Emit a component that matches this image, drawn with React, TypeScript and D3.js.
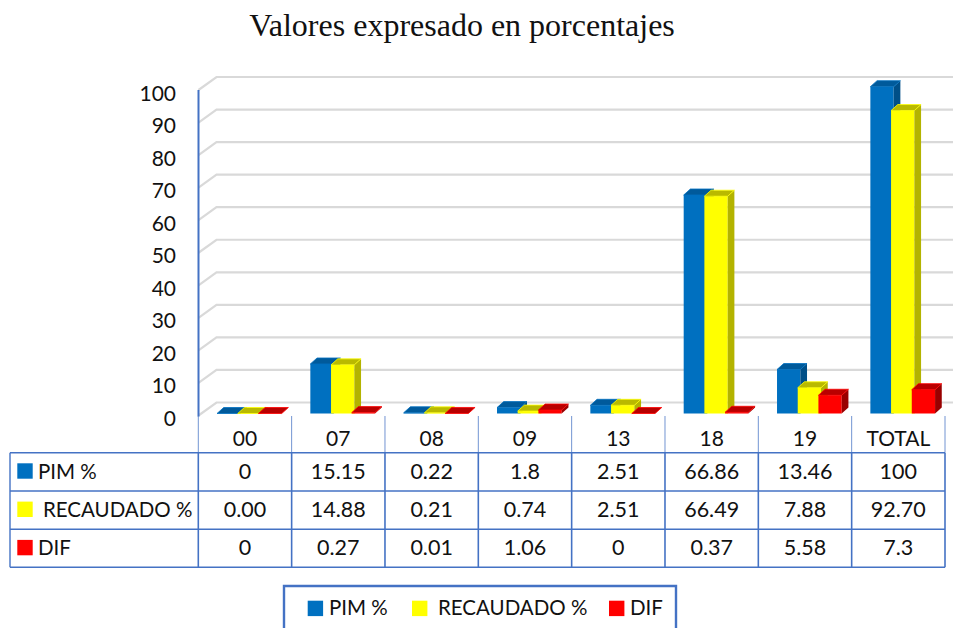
import React from "react";
import * as d3 from "d3";

const categories = ["00", "07", "08", "09", "13", "18", "19", "TOTAL"];
const pim = [0, 15.15, 0.22, 1.8, 2.51, 66.86, 13.46, 100];
const recaudado = [0, 14.88, 0.21, 0.74, 2.51, 66.49, 7.88, 92.7];
const dif = [0, 0.27, 0.01, 1.06, 0, 0.37, 5.58, 7.3];
const pimLabels = ["0", "15.15", "0.22", "1.8", "2.51", "66.86", "13.46", "100"];
const recaudadoLabels = ["0.00", "14.88", "0.21", "0.74", "2.51", "66.49", "7.88", "92.70"];
const difLabels = ["0", "0.27", "0.01", "1.06", "0", "0.37", "5.58", "7.3"];
const ticks = d3.range(0, 101, 10);
const seriesNames = ["PIM %", "RECAUDADO %", "DIF"];
const frontColors = ["#0070c0", "#ffff00", "#ff0000"];
const topColors = ["#005a9b", "#b9b900", "#b90000"];
const sideColors = ["#004f88", "#b3b300", "#990000"];

const FONT = "Lato, 'Open Sans', sans-serif";
const AXIS = "#4472c4";
const GRID = "#d9d9d9";
const INK = "#111";
const W = 953, H = 628;

const band = d3.scaleBand<string>().domain(categories).range([198.3, 945]);
const axisY = d3.scaleLinear().domain([0, 100]).range([415.5, 90]);
const barY = d3.scaleLinear().domain([0, 100]).range([413.5, 86.7]);
const DX = 18, DY = -13;
const dx = 6.7, dy = -6;
const barW = 23.3, step = 20.7, inset = 18.7;
const rowY = [452.7, 491, 529.3, 567.3];
const tableLeft = 10;

function Bar({ x, v, s }: { x: number; v: number; s: number }) {
  const t = barY(v), b = barY(0), r = x + barW;
  const top = `M${x},${t}L${x + dx},${t + dy}L${r + dx},${t + dy}L${r},${t}Z`;
  const side = `M${r},${t}L${r + dx},${t + dy}L${r + dx},${b + dy}L${r},${b}Z`;
  return (
    <g>
      <rect x={x} y={t} width={barW} height={b - t} fill={frontColors[s]} />
      <path d={side} fill={sideColors[s]} />
      <path d={top} fill={topColors[s]} stroke={frontColors[s]} strokeWidth={0.8} />
    </g>
  );
}

export default function App() {
  const rows = [pimLabels, recaudadoLabels, difLabels];
  const rowText = [38, 43, 38];
  const series = [pim, recaudado, dif];
  const bw = band.bandwidth();
  return (
    <svg width={W} height={H} viewBox={`0 0 ${W} ${H}`} style={{ position: "absolute", left: 0, top: 0, background: "#fff" }} fontFamily={FONT}>
      <text x={462} y={36} textAnchor="middle" fontFamily="'Liberation Serif', serif" fontSize={32} fill={INK}>Valores expresado en porcentajes</text>

      {ticks.map((t) => (
        <g key={t}>
          <path d={`M198.5,${axisY(t)}L${198.5 + DX},${axisY(t) + DY}L${W},${axisY(t) + DY}`} fill="none" stroke={GRID} strokeWidth={2.2} />
          <text x={176} y={axisY(t) + 10.5} textAnchor="end" fontSize={21} fill={INK}>{t}</text>
        </g>
      ))}
      <line x1={198.5} x2={198.5} y1={axisY(100)} y2={416.5} stroke={AXIS} strokeWidth={2} />

      {categories.map((c, i) => (
        <g key={c}>
          {series.map((vals, s) => (
            <Bar key={s} x={band(c)! + inset + s * step} v={vals[i]} s={s} />
          ))}
        </g>
      ))}

      {categories.map((c) => (
        <text key={c} x={band(c)! + bw / 2} y={446} textAnchor="middle" fontSize={21} fill={INK}>{c}</text>
      ))}

      {[...categories.map((c) => band(c)!), 945].map((x, i) => (
        <g key={i}>
          <line x1={x} x2={x} y1={416} y2={rowY[0]} stroke={AXIS} strokeWidth={1} opacity={0.75} />
          <line x1={x} x2={x} y1={rowY[0]} y2={rowY[3]} stroke={AXIS} strokeWidth={1.6} />
        </g>
      ))}
      <line x1={tableLeft} x2={tableLeft} y1={rowY[0]} y2={rowY[3]} stroke={AXIS} strokeWidth={1.4} />
      {rowY.map((y) => (
        <line key={y} x1={tableLeft} x2={945} y1={y} y2={y} stroke={AXIS} strokeWidth={1.4} />
      ))}

      {rows.map((labels, r) => (
        <g key={r}>
          <rect x={17.3} y={rowY[r] + 10.6} width={15.4} height={15.4} fill={frontColors[r]} />
          <text x={rowText[r]} y={rowY[r] + 26} fontSize={20.5} fill={INK}>{seriesNames[r]}</text>
          {labels.map((l, i) => (
            <text key={i} x={band(categories[i])! + bw / 2} y={rowY[r] + 26} textAnchor="middle" fontSize={21.5} fill={INK}>{l}</text>
          ))}
        </g>
      ))}

      <path d={`M284,${H + 3}L284,586L676,586L676,${H + 3}`} fill="none" stroke={AXIS} strokeWidth={2.4} />
      {[307.7, 412, 609].map((x, s) => (
        <rect key={s} x={x} y={600.7} width={15.4} height={15.4} fill={frontColors[s]} />
      ))}
      {[329, 438, 630].map((x, s) => (
        <text key={s} x={x} y={615} fontSize={20.5} fill={INK}>{seriesNames[s]}</text>
      ))}
    </svg>
  );
}
